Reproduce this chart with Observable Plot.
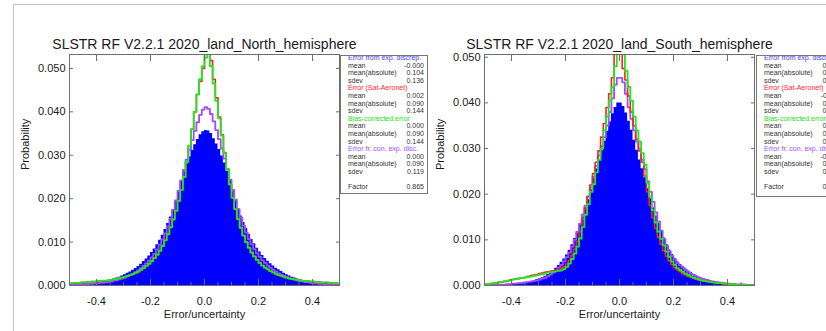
<!DOCTYPE html>
<html><head><meta charset="utf-8">
<script src="https://cdn.jsdelivr.net/npm/d3@7"></script>
<script src="https://cdn.jsdelivr.net/npm/@observablehq/plot@0.6"></script>
<style>
body{margin:0;background:#fff;}
#page{position:relative;width:826px;height:331px;overflow:hidden;font-family:"Liberation Sans",Arial,sans-serif;background:#fff;}
.fline{position:absolute;background:#c4c4c4;}
.panel{position:absolute;top:0;}
.legend{position:absolute;border:1px solid #777;background:#fff;overflow:hidden;font-size:7px;line-height:7.6px;color:#333;}
.legend .inner{position:absolute;left:0;top:-2px;width:100%;}
.legend .row{position:relative;height:7.6px;white-space:nowrap;}
.legend .lab{position:absolute;left:7px;}
.legend .val{position:absolute;text-align:right;}
</style></head>
<body>
<div id="page">
  <div class="fline" style="left:13px;top:4px;width:813px;height:1px"></div>
  <div class="fline" style="left:13px;top:4px;width:1px;height:327px"></div>
</div>
<script>
// ---- data ----
const binCenters = d3.range(100).map(i => +(-0.495 + 0.01 * i).toFixed(3));
const xMajorTicks = [-0.4, -0.2, 0.0, 0.2, 0.4];
const xMinorTicks = [-0.45, -0.35, -0.3, -0.25, -0.15, -0.1, -0.05, 0.05, 0.1, 0.15, 0.25, 0.3, 0.35, 0.45];
const yTicks = [0.00, 0.01, 0.02, 0.03, 0.04, 0.05];

const titleNorth = "SLSTR RF V2.2.1 2020_land_North_hemisphere";
const titleSouth = "SLSTR RF V2.2.1 2020_land_South_hemisphere";

const blueN = [0.0002,0.0002,0.0003,0.0003,0.0003,0.0004,0.0004,0.0005,0.0005,0.0006,
 0.0007,0.0008,0.0009,0.0010,0.0011,0.0013,0.0015,0.0017,0.0019,0.0022,
 0.0025,0.0028,0.0031,0.0035,0.0039,0.0044,0.0049,0.0055,0.0061,0.0068,
 0.0076,0.0084,0.0094,0.0104,0.0116,0.0129,0.0143,0.0158,0.0175,0.0193,
 0.0215,0.0240,0.0262,0.0280,0.0296,0.0311,0.0324,0.0336,0.0347,0.0354,
 0.0357,0.0356,0.0350,0.0338,0.0326,0.0313,0.0298,0.0282,0.0263,0.0241,
 0.0217,0.0195,0.0177,0.0160,0.0145,0.0131,0.0118,0.0106,0.0096,0.0086,
 0.0077,0.0069,0.0062,0.0056,0.0050,0.0045,0.0040,0.0036,0.0032,0.0028,
 0.0025,0.0022,0.0019,0.0017,0.0015,0.0013,0.0011,0.0010,0.0009,0.0008,
 0.0007,0.0006,0.0005,0.0005,0.0004,0.0004,0.0003,0.0003,0.0002,0.0002];
const purpleN = [0.0002,0.0002,0.0002,0.0002,0.0003,0.0003,0.0003,0.0004,0.0004,0.0005,
 0.0005,0.0006,0.0006,0.0007,0.0008,0.0009,0.0011,0.0012,0.0014,0.0016,
 0.0018,0.0021,0.0024,0.0027,0.0031,0.0035,0.0040,0.0045,0.0051,0.0057,
 0.0065,0.0073,0.0083,0.0094,0.0106,0.0120,0.0136,0.0154,0.0174,0.0196,
 0.0218,0.0242,0.0266,0.0290,0.0313,0.0335,0.0356,0.0376,0.0393,0.0405,
 0.0411,0.0407,0.0395,0.0378,0.0358,0.0337,0.0315,0.0292,0.0268,0.0244,
 0.0220,0.0198,0.0176,0.0156,0.0138,0.0122,0.0107,0.0095,0.0084,0.0074,
 0.0066,0.0058,0.0052,0.0046,0.0041,0.0036,0.0032,0.0028,0.0025,0.0022,
 0.0019,0.0017,0.0015,0.0013,0.0011,0.0010,0.0009,0.0008,0.0007,0.0006,
 0.0005,0.0005,0.0004,0.0004,0.0003,0.0003,0.0003,0.0002,0.0002,0.0002];
const greenN = [0.0005,0.0006,0.0006,0.0006,0.0007,0.0007,0.0008,0.0008,0.0009,0.0009,
 0.0010,0.0010,0.0011,0.0011,0.0012,0.0013,0.0014,0.0015,0.0017,0.0018,
 0.0020,0.0022,0.0024,0.0026,0.0029,0.0032,0.0036,0.0040,0.0045,0.0050,
 0.0056,0.0063,0.0071,0.0080,0.0091,0.0104,0.0118,0.0134,0.0152,0.0172,
 0.0195,0.0220,0.0250,0.0285,0.0322,0.0360,0.0400,0.0440,0.0475,0.0505,
 0.0525,0.0550,0.0505,0.0465,0.0425,0.0385,0.0345,0.0305,0.0268,0.0233,
 0.0202,0.0176,0.0153,0.0133,0.0115,0.0100,0.0087,0.0076,0.0067,0.0059,
 0.0052,0.0046,0.0041,0.0037,0.0033,0.0030,0.0027,0.0024,0.0022,0.0020,
 0.0018,0.0016,0.0015,0.0014,0.0013,0.0012,0.0011,0.0010,0.0010,0.0009,
 0.0009,0.0008,0.0008,0.0007,0.0007,0.0007,0.0006,0.0006,0.0006,0.0005];
const redN = [0.0005,0.0006,0.0006,0.0006,0.0007,0.0007,0.0008,0.0008,0.0009,0.0009,
 0.0010,0.0010,0.0011,0.0011,0.0012,0.0013,0.0014,0.0015,0.0017,0.0018,
 0.0020,0.0022,0.0024,0.0026,0.0029,0.0032,0.0036,0.0040,0.0045,0.0050,
 0.0056,0.0063,0.0071,0.0080,0.0091,0.0104,0.0118,0.0134,0.0152,0.0172,
 0.0195,0.0220,0.0250,0.0285,0.0322,0.0360,0.0400,0.0440,0.0470,0.0500,
 0.0535,0.0560,0.0518,0.0475,0.0432,0.0388,0.0347,0.0306,0.0268,0.0233,
 0.0202,0.0176,0.0153,0.0133,0.0115,0.0100,0.0087,0.0076,0.0067,0.0059,
 0.0052,0.0046,0.0041,0.0037,0.0033,0.0030,0.0027,0.0024,0.0022,0.0020,
 0.0018,0.0016,0.0015,0.0014,0.0013,0.0012,0.0011,0.0010,0.0010,0.0009,
 0.0009,0.0008,0.0008,0.0007,0.0007,0.0007,0.0006,0.0006,0.0006,0.0005];

const blueS = [0.0001,0.0001,0.0001,0.0001,0.0001,0.0001,0.0002,0.0002,0.0002,0.0003,
 0.0003,0.0004,0.0004,0.0005,0.0006,0.0007,0.0008,0.0009,0.0011,0.0013,
 0.0015,0.0017,0.0020,0.0024,0.0028,0.0033,0.0038,0.0044,0.0051,0.0058,
 0.0067,0.0077,0.0089,0.0103,0.0118,0.0134,0.0150,0.0168,0.0188,0.0210,
 0.0234,0.0255,0.0274,0.0295,0.0316,0.0338,0.0358,0.0376,0.0390,0.0400,
 0.0400,0.0392,0.0378,0.0360,0.0340,0.0318,0.0296,0.0275,0.0256,0.0236,
 0.0212,0.0190,0.0170,0.0152,0.0136,0.0120,0.0104,0.0090,0.0078,0.0068,
 0.0059,0.0052,0.0046,0.0041,0.0036,0.0032,0.0028,0.0024,0.0021,0.0018,
 0.0016,0.0014,0.0012,0.0011,0.0009,0.0008,0.0007,0.0006,0.0005,0.0004,
 0.0003,0.0003,0.0002,0.0002,0.0002,0.0001,0.0001,0.0001,0.0001,0.0001];
const purpleS = [0.0001,0.0001,0.0001,0.0001,0.0002,0.0002,0.0002,0.0002,0.0003,0.0003,
 0.0004,0.0004,0.0005,0.0005,0.0006,0.0007,0.0008,0.0009,0.0010,0.0011,
 0.0013,0.0015,0.0017,0.0020,0.0024,0.0028,0.0033,0.0039,0.0045,0.0053,
 0.0062,0.0072,0.0085,0.0100,0.0117,0.0135,0.0155,0.0175,0.0195,0.0215,
 0.0238,0.0262,0.0285,0.0305,0.0325,0.0350,0.0380,0.0410,0.0440,0.0455,
 0.0455,0.0445,0.0420,0.0390,0.0365,0.0340,0.0315,0.0300,0.0275,0.0255,
 0.0228,0.0205,0.0183,0.0160,0.0140,0.0120,0.0102,0.0087,0.0075,0.0065,
 0.0057,0.0049,0.0044,0.0039,0.0034,0.0030,0.0026,0.0023,0.0020,0.0017,
 0.0015,0.0013,0.0012,0.0010,0.0009,0.0008,0.0007,0.0006,0.0005,0.0004,
 0.0004,0.0003,0.0003,0.0002,0.0002,0.0002,0.0001,0.0001,0.0001,0.0001];
const greenS = [0.0003,0.0003,0.0004,0.0005,0.0006,0.0007,0.0008,0.0009,0.0010,0.0011,
 0.0013,0.0014,0.0015,0.0016,0.0017,0.0018,0.0019,0.0020,0.0021,0.0022,
 0.0024,0.0025,0.0026,0.0028,0.0029,0.0030,0.0031,0.0032,0.0033,0.0036,
 0.0041,0.0048,0.0058,0.0070,0.0085,0.0103,0.0128,0.0155,0.0178,0.0205,
 0.0222,0.0248,0.0275,0.0300,0.0340,0.0370,0.0405,0.0435,0.0480,0.0520,
 0.0520,0.0515,0.0470,0.0435,0.0405,0.0370,0.0340,0.0315,0.0290,0.0265,
 0.0225,0.0195,0.0165,0.0138,0.0118,0.0102,0.0088,0.0074,0.0063,0.0053,
 0.0045,0.0038,0.0034,0.0030,0.0026,0.0023,0.0020,0.0017,0.0015,0.0013,
 0.0011,0.0010,0.0009,0.0008,0.0007,0.0006,0.0005,0.0005,0.0004,0.0004,
 0.0003,0.0003,0.0003,0.0002,0.0002,0.0002,0.0002,0.0001,0.0001,0.0001];
const redS = [0.0003,0.0003,0.0004,0.0005,0.0006,0.0007,0.0008,0.0009,0.0010,0.0012,
 0.0013,0.0014,0.0015,0.0016,0.0017,0.0018,0.0020,0.0022,0.0023,0.0024,
 0.0026,0.0027,0.0029,0.0030,0.0031,0.0032,0.0033,0.0034,0.0037,0.0041,
 0.0047,0.0055,0.0066,0.0080,0.0096,0.0118,0.0145,0.0170,0.0195,0.0220,
 0.0245,0.0270,0.0295,0.0325,0.0355,0.0390,0.0420,0.0455,0.0520,0.0525,
 0.0520,0.0475,0.0450,0.0415,0.0380,0.0350,0.0320,0.0295,0.0270,0.0240,
 0.0205,0.0175,0.0148,0.0125,0.0106,0.0090,0.0076,0.0064,0.0054,0.0046,
 0.0039,0.0034,0.0030,0.0026,0.0023,0.0020,0.0018,0.0016,0.0014,0.0012,
 0.0011,0.0010,0.0009,0.0008,0.0007,0.0006,0.0005,0.0005,0.0004,0.0004,
 0.0003,0.0003,0.0003,0.0002,0.0002,0.0002,0.0002,0.0001,0.0001,0.0001];

const legendTitles = ["Error from exp. discrep.", "Error (Sat-Aeronet)", "Bias-corrected error", "Error fr. con. exp. disc."];
const legendColors = ["#3a3aff", "#ff2a2a", "#22e022", "#a64cff"];
const statNames = ["mean", "mean(absolute)", "sdev"];
const statsNorth = [["-0.000","0.104","0.136"],["0.002","0.090","0.144"],["0.000","0.090","0.144"],["0.000","0.090","0.119"]];
const statsSouth = [["0.004","0.093","0.121"],["-0.011","0.082","0.126"],["0.000","0.080","0.125"],["-0.001","0.080","0.105"]];
const factorNorth = "0.865";
const factorSouth = "0.866";

// ---- colours ----
const C = {blue: "#0000ff", red: "#ff1e1e", green: "#1ee81e", purple: "#a548ff", frame: "#6e6e6e", text: "#1a1a1a"};

function panel({title, blue, red, green, purple, yMax, marginLeft, marginRight}) {
  const rows = binCenters.map((x, i) => ({x, blue: blue[i], red: red[i], green: green[i], purple: purple[i]}));
  const fmtX = d => d.toFixed(1);
  const fmtY = d => d.toFixed(3);
  const blank = () => "";
  return Plot.plot({
    width: 413, height: 331,
    marginTop: 54, marginBottom: 46, marginLeft, marginRight,
    style: {fontFamily: "'Liberation Sans', Arial, sans-serif", background: "transparent", color: C.text},
    x: {domain: [-0.5, 0.5], label: null},
    y: {domain: [0, yMax], label: null},
    marks: [
      Plot.areaY(rows, {x: "x", y: "blue", curve: "step", fill: C.blue, clip: true}),
      Plot.line(rows, {x: "x", y: "purple", curve: "step", stroke: C.purple, strokeWidth: 1.8, clip: true}),
      Plot.line(rows, {x: "x", y: "red", curve: "step", stroke: C.red, strokeWidth: 1.6, clip: true}),
      Plot.line(rows, {x: "x", y: "green", curve: "step", stroke: C.green, strokeWidth: 1.8, clip: true}),
      Plot.frame({stroke: C.frame}),
      Plot.axisY({ticks: yTicks, anchor: "left", tickSize: 0, tickPadding: 4, tickFormat: fmtY, fontSize: 11, label: null}),
      Plot.axisY({ticks: yTicks, anchor: "left", tickSize: -4, tickFormat: blank, stroke: C.frame, label: null}),
      Plot.axisY({ticks: yTicks, anchor: "right", tickSize: -4, tickFormat: blank, stroke: C.frame, label: null}),
      Plot.axisX({ticks: xMajorTicks, anchor: "bottom", tickSize: 0, tickPadding: 12, tickFormat: fmtX, fontSize: 11, label: null}),
      Plot.axisX({ticks: xMajorTicks, anchor: "bottom", tickSize: -6, tickFormat: blank, stroke: C.frame, label: null}),
      Plot.axisX({ticks: xMinorTicks, anchor: "bottom", tickSize: -3, tickFormat: blank, stroke: C.frame, label: null}),
      Plot.axisX({ticks: xMajorTicks, anchor: "top", tickSize: -6, tickFormat: blank, stroke: C.frame, label: null}),
      Plot.text([title], {text: d => d, frameAnchor: "top", dy: -15, fontSize: 14, fill: C.text}),
      Plot.text(["Probability"], {text: d => d, frameAnchor: "left", dx: -44, rotate: -90, fontSize: 11, fill: C.text}),
      Plot.text(["Error/uncertainty"], {text: d => d, frameAnchor: "bottom", dy: 32, fontSize: 11, fill: C.text})
    ]
  });
}

function legendBox({left, top, width, height, stats, factor, valRight}) {
  const box = document.createElement("div");
  box.className = "legend";
  Object.assign(box.style, {left: left + "px", top: top + "px", width: width + "px", height: height + "px"});
  const inner = document.createElement("div");
  inner.className = "inner";
  const addRow = (label, value, color) => {
    const r = document.createElement("div");
    r.className = "row";
    const l = document.createElement("span");
    l.className = "lab"; l.textContent = label;
    if (color) l.style.color = color;
    r.appendChild(l);
    if (value != null) {
      const v = document.createElement("span");
      v.className = "val"; v.textContent = value;
      v.style.right = (width - valRight) + "px";
      r.appendChild(v);
    }
    inner.appendChild(r);
  };
  legendTitles.forEach((t, k) => {
    addRow(t, null, legendColors[k]);
    statNames.forEach((s, j) => addRow(s, stats[k][j]));
  });
  addRow("", null);
  addRow("Factor", factor);
  box.appendChild(inner);
  return box;
}

const page = document.getElementById("page");

const left = document.createElement("div");
left.className = "panel"; left.style.left = "0px";
left.appendChild(panel({title: titleNorth, blue: blueN, red: redN, green: greenN, purple: purpleN, yMax: 0.0532, marginLeft: 69, marginRight: 74}));
page.appendChild(left);

const right = document.createElement("div");
right.className = "panel"; right.style.left = "413px";
right.appendChild(panel({title: titleSouth, blue: blueS, red: redS, green: greenS, purple: purpleS, yMax: 0.0506, marginLeft: 71, marginRight: 72}));
page.appendChild(right);

page.appendChild(legendBox({left: 340, top: 55, width: 86, height: 137, stats: statsNorth, factor: factorNorth, valRight: 83}));
page.appendChild(legendBox({left: 756, top: 55, width: 100, height: 140, stats: statsSouth, factor: factorSouth, valRight: 83}));
</script>
</body></html>
